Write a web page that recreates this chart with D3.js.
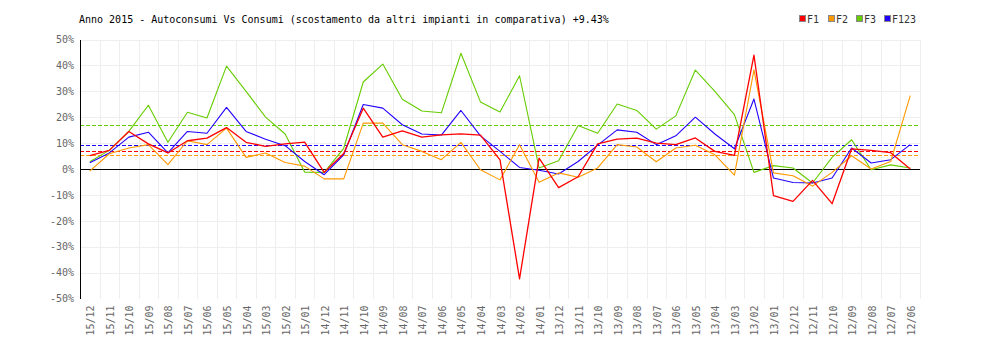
<!DOCTYPE html>
<html>
<head>
<meta charset="utf-8">
<script src="https://cdn.jsdelivr.net/npm/d3@7/dist/d3.min.js"></script>
<style>
  html, body { margin: 0; padding: 0; background: #ffffff; }
  svg { display: block; }
  text { font-family: "DejaVu Sans Mono", "Liberation Mono", monospace; }
</style>
</head>
<body>
<svg id="chart" width="1000" height="340"></svg>
<script>
// Months, most recent first
const months = [
  "15/12","15/11","15/10","15/09","15/08","15/07","15/06","15/05","15/04","15/03","15/02","15/01",
  "14/12","14/11","14/10","14/09","14/08","14/07","14/06","14/05","14/04","14/03","14/02","14/01",
  "13/12","13/11","13/10","13/09","13/08","13/07","13/06","13/05","13/04","13/03","13/02","13/01",
  "12/12","12/11","12/10","12/09","12/08","12/07","12/06"
];

// Percentage deviation per band
const f1 = [5.2, 7.2, 14.5, 9.7, 6.2, 10.9, 11.9, 16.0, 10.3, 8.7, 9.7, 10.4,
  -1.3, 6.0, 23.5, 12.3, 14.7, 12.3, 13.2, 13.6, 13.1, 3.5, -42.4, 4.2,
  -7.2, -3.0, 9.7, 11.5, 11.9, 10.0, 9.4, 12.0, 6.8, 5.3, 44.0, -10.3,
  -12.5, -4.4, -13.4, 7.8, 7.2, 6.3, 0.0];
const f2 = [-0.8, 5.9, 8.1, 9.4, 1.7, 10.9, 9.4, 15.8, 4.5, 6.2, 2.5, 1.1,
  -3.8, -3.8, 17.7, 17.7, 9.4, 6.8, 3.6, 10.3, -0.3, -4.2, 9.4, -5.1,
  -1.5, -3.2, 0.4, 9.4, 8.5, 2.8, 8.1, 9.2, 5.5, -2.4, 38.3, -1.5,
  -2.6, -6.6, -1.3, 5.1, 0.0, 2.9, 28.3];
const f3 = [2.8, 7.2, 14.5, 24.6, 10.3, 21.9, 19.7, 39.7, 30.0, 20.0, 13.5, -1.2,
  -1.3, 8.0, 33.6, 40.5, 26.9, 22.4, 21.7, 44.7, 25.9, 22.0, 36.0, 0.4,
  3.2, 16.8, 13.8, 25.1, 22.6, 15.4, 20.5, 38.2, 30.0, 21.0, -1.3, 1.3,
  0.4, -5.4, 4.5, 11.3, -0.3, 1.6, 0.4];
const f123 = [2.4, 6.2, 12.3, 14.2, 6.2, 14.5, 13.8, 23.8, 14.5, 11.5, 9.0, 2.9,
  -2.2, 5.5, 24.9, 23.5, 17.1, 13.5, 13.1, 22.6, 12.8, 6.8, 0.6, -0.5,
  -1.9, 2.9, 9.2, 15.1, 14.2, 9.4, 12.8, 20.0, 13.5, 7.8, 27.0, -3.5,
  -5.2, -5.4, -3.5, 8.1, 2.3, 3.6, 9.4];

// Average deviation of each series
const seriesNames = ["F1", "F2", "F3", "F123"];
const seriesAverages = [6.9, 5.4, 17.0, 9.43];
const seriesColors = ["#ff0000", "#ff9900", "#66cc00", "#2200ff"];

const yTicks = [-50, -40, -30, -20, -10, 0, 10, 20, 30, 40, 50];
const titleText = "Anno 2015 - Autoconsumi Vs Consumi (scostamento da altri impianti in comparativa) +9.43%";

const svg = d3.select("#chart");

const plot = { left: 80, right: 920, top: 39.5, bottom: 298.5 };

const x = d3.scaleBand().domain(months).range([plot.left, plot.right]).paddingInner(0).paddingOuter(0);
const y = d3.scaleLinear().domain([-50, 50]).range([plot.bottom, plot.top]);
const cx = m => x(m) + x.bandwidth() / 2;

// Grid
const grid = svg.append("g").attr("shape-rendering", "crispEdges");
grid.selectAll("line.h")
  .data(yTicks.filter(t => t > -50))
  .join("line")
  .attr("x1", plot.left).attr("x2", plot.right)
  .attr("y1", d => Math.round(y(d)) + 0.5).attr("y2", d => Math.round(y(d)) + 0.5)
  .attr("stroke", "#eeeeee");
grid.selectAll("line.v")
  .data(months)
  .join("line")
  .attr("x1", d => Math.round(x(d) + x.bandwidth()) + 0.5)
  .attr("x2", d => Math.round(x(d) + x.bandwidth()) + 0.5)
  .attr("y1", plot.top).attr("y2", plot.bottom)
  .attr("stroke", "#eeeeee");

// Y axis labels
const yAxis = d3.axisLeft(y).tickValues(yTicks).tickSize(0).tickPadding(6).tickFormat(d => d + "%");
const gy = svg.append("g").attr("transform", `translate(${plot.left},0)`).call(yAxis);
gy.select(".domain").remove();
gy.selectAll("text").attr("fill", "#666666").attr("font-size", 10)
  .attr("font-family", "DejaVu Sans Mono");

// X axis labels (rotated)
const xAxis = d3.axisBottom(x).tickSize(0).tickPadding(0);
const gx = svg.append("g").attr("transform", `translate(0,${plot.bottom})`).call(xAxis);
gx.select(".domain").remove();
gx.selectAll("text")
  .attr("fill", "#666666").attr("font-size", 10).attr("font-family", "DejaVu Sans Mono")
  .attr("text-anchor", "end")
  .attr("transform", "translate(1,7) rotate(-90)")
  .attr("x", 0).attr("y", 0).attr("dy", "0.35em");

// Average reference lines
svg.append("g").selectAll("line")
  .data(seriesAverages)
  .join("line")
  .attr("x1", plot.left).attr("x2", plot.right)
  .attr("y1", d => Math.round(y(d)) + 0.5).attr("y2", d => Math.round(y(d)) + 0.5)
  .attr("stroke", (d, i) => seriesColors[i])
  .attr("stroke-dasharray", "4,2")
  .attr("shape-rendering", "crispEdges");

// Axis lines
svg.append("line")
  .attr("x1", plot.left + 0.5).attr("x2", plot.left + 0.5)
  .attr("y1", plot.top).attr("y2", plot.bottom)
  .attr("stroke", "#000").attr("shape-rendering", "crispEdges");
svg.append("line")
  .attr("x1", plot.left).attr("x2", plot.right)
  .attr("y1", Math.round(y(0)) + 0.5).attr("y2", Math.round(y(0)) + 0.5)
  .attr("stroke", "#000").attr("shape-rendering", "crispEdges");

// Series lines
const seriesValues = [f1, f2, f3, f123];
const line = d3.line().x((d, i) => cx(months[i])).y(d => y(d));
const drawOrder = [2, 3, 1, 0];
svg.append("g").selectAll("path")
  .data(drawOrder)
  .join("path")
  .attr("d", i => line(seriesValues[i]))
  .attr("fill", "none")
  .attr("stroke", i => seriesColors[i])
  .attr("stroke-width", i => i === 0 ? 1.3 : 1.1)
  .attr("stroke-linejoin", "round");

// Title
svg.append("text")
  .attr("x", 79).attr("y", 23)
  .attr("font-size", 10).attr("fill", "#000")
  .text(titleText);

// Legend
const legend = svg.append("g");
const legendX = [799, 828, 856, 884];
seriesNames.forEach((name, i) => {
  legend.append("rect")
    .attr("x", legendX[i] + 0.5).attr("y", 15.5).attr("width", 6).attr("height", 6)
    .attr("fill", seriesColors[i]).attr("stroke", "#888888")
    .attr("shape-rendering", "crispEdges");
  legend.append("text")
    .attr("x", legendX[i] + 8).attr("y", 23)
    .attr("font-size", 10).attr("fill", "#333333")
    .text(name);
});
</script>
</body>
</html>
